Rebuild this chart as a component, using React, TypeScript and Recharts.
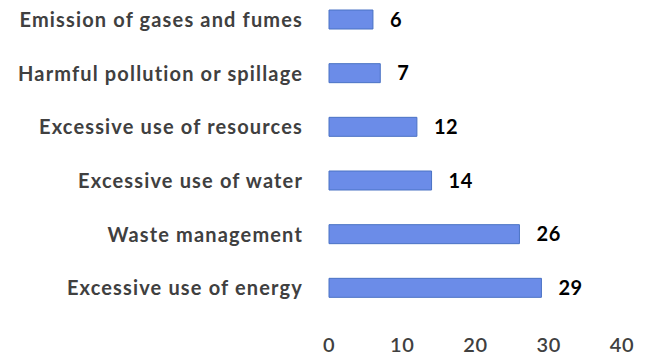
import React from "react";
import { BarChart, Bar, XAxis, YAxis, LabelList } from "recharts";

const categories = [
  "Emission of gases and fumes",
  "Harmful pollution or spillage",
  "Excessive use of resources",
  "Excessive use of water",
  "Waste management",
  "Excessive use of energy",
];
const counts = [6, 7, 12, 14, 26, 29];
const xTicks = [0, 10, 20, 30, 40];

const data = categories.map((name, i) => ({ name, value: counts[i] }));

const FONT = "Lato, 'Noto Sans', sans-serif";

export default function App() {
  return (
    <div style={{ position: "absolute", left: 0, top: 0, background: "#fff" }}>
      <BarChart
        width={648}
        height={357}
        data={data}
        layout="vertical"
        margin={{ top: -7, right: 26, bottom: 0, left: 0 }}
        barSize={19}
      >
        <XAxis
          type="number"
          domain={[0, 40]}
          ticks={xTicks}
          axisLine={false}
          tickLine={false}
          tickSize={0}
          tickMargin={23}
          height={42}
          tick={{
            fill: "#404040",
            fontSize: 20,
            fontFamily: FONT,
            fontWeight: 600,
            letterSpacing: 0.6,
          }}
        />
        <YAxis
          type="category"
          dataKey="name"
          width={329}
          axisLine={false}
          tickLine={false}
          tickSize={0}
          tickMargin={26}
          interval={0}
          tick={{
            fill: "#404040",
            fontSize: 20,
            fontFamily: FONT,
            fontWeight: 700,
            letterSpacing: 1.15,
          }}
        />
        <Bar
          dataKey="value"
          fill="#6B8CE8"
          stroke="#4A72C4"
          strokeWidth={1}
          isAnimationActive={false}
        >
          <LabelList
            dataKey="value"
            position="right"
            offset={17}
            style={{
              fill: "#000",
              fontSize: 20,
              fontFamily: FONT,
              fontWeight: 700,
              letterSpacing: 0.6,
            }}
          />
        </Bar>
      </BarChart>
    </div>
  );
}
